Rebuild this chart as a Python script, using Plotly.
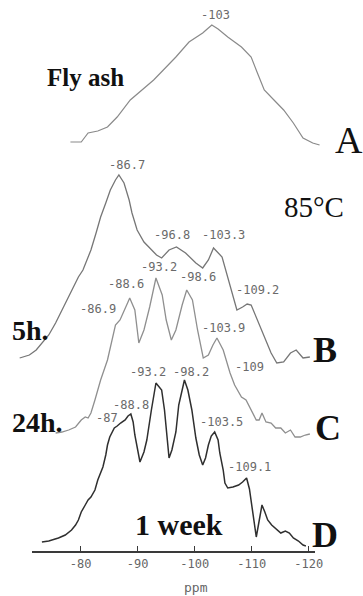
import numpy as np
import plotly.graph_objects as go

# --- 29Si NMR spectra (chemical shift in ppm, intensity in arbitrary units) ---
a_ppm = [-78.2, -80.1, -81.3, -83.0, -84.7, -86.4, -88.7, -90.4, -92.8, -94.5, -96.7, -99.0,
         -101.4, -102.2, -103.0, -104.1, -105.8, -108.2, -109.9, -111.0, -112.2, -113.9,
         -115.6, -117.3, -119.0, -120.7, -121.9]
a_int = [3, 3, 12, 14, 18, 28, 45, 53, 65, 75, 88, 103,
         112, 116, 120, 116, 108, 98, 88, 72, 55, 45,
         35, 22, 7, 2, 0]

b_ppm = [-69.3, -71.0, -72.2, -73.2, -74.4, -75.6, -76.7, -78.2, -79.6, -80.4,
         -80.9, -81.8, -82.7, -83.5, -84.4, -85.2, -86.1, -86.7, -87.6, -88.5,
         -89.0, -89.9, -91.1, -92.1, -93.3, -94.2, -95.5, -96.8, -98.4, -100.2,
         -101.4, -102.4, -103.3, -104.8, -105.6, -106.5, -107.4, -108.4, -109.2, -109.9,
         -111.0, -112.2, -113.4, -114.4, -115.6, -116.8, -117.8, -119.0, -120.2]
b_int = [0, 3, 8, 15, 23, 35, 48, 65, 81, 88,
         95, 108, 125, 141, 155, 168, 178, 183, 175, 158,
         145, 128, 116, 110, 103, 100, 108, 111, 105, 95,
         90, 98, 110, 101, 85, 68, 48, 51, 54, 53,
         38, 21, 5, -5, -4, 5, 8, 0, 1]

c_ppm = [-75.6, -76.7, -77.9, -79.1, -80.1, -80.8, -81.3, -81.8, -82.5, -83.5,
         -84.7, -85.6, -86.1, -86.9, -87.6, -88.3, -88.6, -89.5, -90.2, -91.1,
         -92.1, -92.6, -93.2, -94.3, -95.0, -95.9, -96.7, -97.8, -98.6, -99.6,
         -100.5, -101.5, -102.4, -103.2, -103.9, -105.0, -106.2, -107.0, -108.2, -109.0,
         -109.9, -110.8, -111.3, -111.8, -112.5, -113.4, -114.2, -115.1, -115.9, -116.8,
         -117.6, -118.5, -119.4, -120.2]
c_int = [1, 2, 4, 7, 14, 17, 16, 21, 34, 54,
         74, 97, 109, 114, 124, 132, 136, 124, 91, 104,
         127, 142, 156, 139, 114, 94, 104, 129, 144, 134,
         104, 76, 79, 89, 96, 84, 61, 49, 37, 34,
         24, 14, 14, 21, 12, 11, 6, 6, 1, 4,
         -3, -3, -1, 0]

d_ppm = [-73.2, -74.4, -76.1, -77.3, -78.4, -79.1, -79.6, -80.1, -80.8, -81.3,
         -81.8, -82.5, -83.0, -83.5, -83.9, -84.4, -84.7, -85.1, -85.6, -85.9,
         -86.4, -87.0, -87.8, -88.3, -88.8, -89.2, -89.5, -90.4, -91.1, -91.6,
         -92.4, -92.8, -93.2, -94.2, -94.7, -95.2, -95.5, -96.0, -96.7, -97.2,
         -97.8, -98.2, -98.8, -99.5, -100.2, -100.8, -101.4, -101.9, -102.4, -102.9,
         -103.5, -104.1, -104.4, -105.0, -105.3, -105.8, -106.7, -107.7, -108.4, -109.1,
         -109.6, -110.1, -110.8, -111.3, -111.8, -112.3, -112.8, -113.5, -114.4, -115.1,
         -115.9, -116.6, -117.3, -118.2, -119.0, -119.5]
d_int = [4, 5, 8, 11, 16, 21, 26, 34, 41, 46,
         49, 56, 66, 73, 79, 91, 101, 109, 114, 118,
         120, 123, 126, 130, 132, 124, 111, 84, 94, 106,
         136, 148, 163, 156, 136, 106, 88, 96, 114, 141,
         158, 166, 156, 136, 108, 91, 81, 88, 101, 110,
         114, 106, 93, 76, 63, 58, 59, 61, 64, 68,
         57, 35, 9, 25, 41, 34, 26, 21, 16, 13,
         15, 13, 8, 5, 1, 0]

# Peak assignments (ppm) printed next to each spectrum
a_peaks = [-103]
b_peaks = [-86.7, -96.8, -103.3, -109.2]
c_peaks = [-86.9, -88.6, -93.2, -98.6, -103.9, -109]
d_peaks = [-87, -88.8, -93.2, -98.2, -103.5, -109.1]

tick_vals = [-80, -90, -100, -110, -120]
tick_text = ["-80", "-90", "-100", "-110", "-120"]

# --- styling / layout ---
W, H = 363, 596
PLOT_H = 551
SERIF = "Liberation Serif"
MONO = "DejaVu Sans Mono"

spectra = [
    ("A", a_ppm, a_int, a_peaks, 406, "#8a8a8a", 1.2,
     [(4, 10)]),
    ("B", b_ppm, b_int, b_peaks, 193, "#767676", 1.3,
     [(8, 10), (-4, 12), (10, 13), (10, 14)]),
    ("C", c_ppm, c_int, c_peaks, 117, "#8f8f8f", 1.3,
     [(-22, 11), (-4, 14), (3, 11), (11, 13), (7, 10), (3, 33)]),
    ("D", d_ppm, d_int, d_peaks, 5, "#2f2f2f", 1.5,
     [(-14, 5), (0, 9), (-8, 11), (7, 8), (7, 10), (3, 11)]),
]

fig = go.Figure()
annotations = []

for name, ppm, inten, peaks, off, color, lw, shifts in spectra:
    ppm_arr = np.asarray(ppm, dtype=float)
    y_arr = np.asarray(inten, dtype=float) + off
    fig.add_trace(go.Scatter(x=ppm_arr, y=y_arr, mode="lines",
                             line=dict(color=color, width=lw, shape="linear"),
                             hoverinfo="skip", showlegend=False,
                             xaxis="x", yaxis="y"))
    order = np.argsort(ppm_arr)
    for v, (dx, dy) in zip(peaks, shifts):
        yv = float(np.interp(v, ppm_arr[order], y_arr[order]))
        annotations.append(dict(x=v, y=yv, xref="x", yref="y", text=f"{v:g}",
                                showarrow=False, xshift=dx, yshift=dy,
                                xanchor="center", yanchor="middle",
                                font=dict(family=MONO, size=12, color="#6a6a6a")))

# invisible anchor for the ppm scale axis
fig.add_trace(go.Scatter(x=[-100], y=[0], mode="markers", marker=dict(opacity=0),
                         hoverinfo="skip", showlegend=False, xaxis="x2", yaxis="y"))

# sample / letter labels
big = [
    ("Fly ash", -80.9, 474, 25, True, "center"),
    ("85°C", -115.3, 344, 29, False, "left"),
    ("5h.", -71.2, 221, 28, True, "center"),
    ("24h.", -72.5, 129, 28, True, "center"),
    ("1 week", -97.3, 27, 30, True, "center"),
    ("A", -124.2, 411, 38, False, "left"),
    ("B", -120.4, 201, 36, True, "left"),
    ("C", -120.7, 123, 36, True, "left"),
    ("D", -120.2, 16, 36, True, "left"),
]
for txt, x, y, size, bold, xa in big:
    annotations.append(dict(x=x, y=y, xref="x", yref="y",
                            text=f"<b>{txt}</b>" if bold else txt,
                            showarrow=False, xanchor=xa, yanchor="middle",
                            font=dict(family=SERIF, size=size, color="#111111")))

# axis caption, placed in paper units below the plotting area
annotations.append(dict(x=200 / W, y=(PLOT_H - 587) / PLOT_H, xref="paper", yref="paper",
                        text="ppm", showarrow=False, xanchor="center", yanchor="middle",
                        font=dict(family=MONO, size=13, color="#666666")))

fig.update_layout(
    width=W, height=H,
    margin=dict(l=0, r=0, t=0, b=H - PLOT_H, pad=0),
    paper_bgcolor="white", plot_bgcolor="rgba(0,0,0,0)",
    showlegend=False,
    xaxis=dict(domain=[0, 1], range=[-65.849, -128.115], visible=False),
    xaxis2=dict(domain=[33 / W, 322 / W], range=[-71.51, -121.08], anchor="y",
                side="bottom", showline=True, linecolor="#3a3a3a", linewidth=1.5,
                ticks="inside", ticklen=5, tickwidth=1, tickcolor="#3a3a3a",
                tickvals=tick_vals, ticktext=tick_text, ticklabelstandoff=1,
                tickfont=dict(family=MONO, size=12, color="#666666"),
                showgrid=False, zeroline=False),
    yaxis=dict(domain=[0, 1], range=[0, PLOT_H], visible=False),
    annotations=annotations,
)

fig.write_html("out.html")
